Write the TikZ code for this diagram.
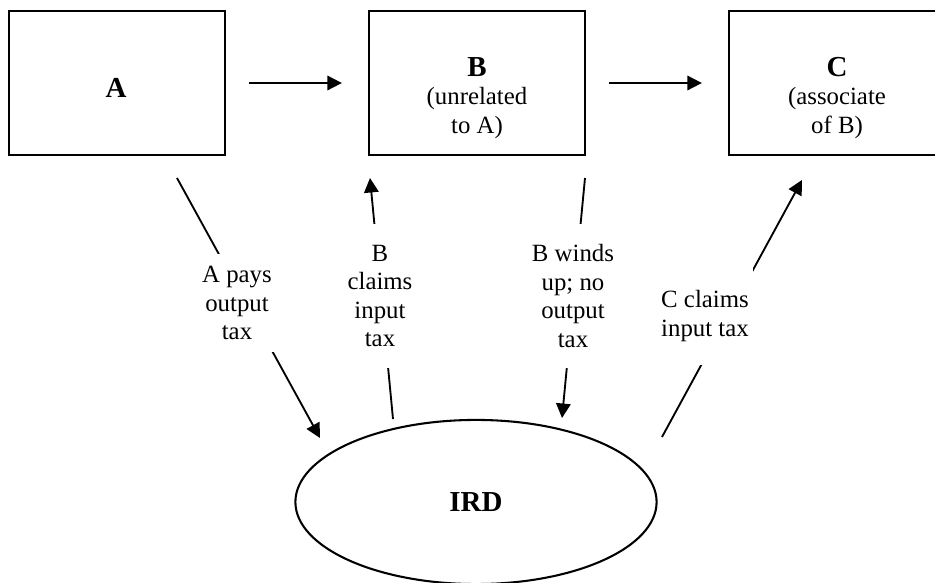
\documentclass[tikz,border=0pt]{standalone}
\usepackage{fontspec}
\setmainfont{Liberation Serif}
\usetikzlibrary{
    arrows.meta,
    shapes.geometric
}
\tikzset{
    % Arrows
    arrow tip/.tip={Triangle[length=7pt,width=7pt]},
    link/.style={line width=0.9pt},
    arr/.style={link,-{arrow tip}},
    %
    % Parties and the office
    party/.style={draw,line width=1.2pt,minimum width=3.672cm,minimum height=2.448cm,inner sep=0pt},
    office/.style={draw,ellipse,line width=1pt,minimum width=6.14cm,minimum height=2.79cm,inner sep=0pt},
    party name/.style={align=center},
    %
    % Labels on the flows
    flow label/.style={align=center,fill=white,inner xsep=2pt,inner ysep=0pt,minimum height=#1},
    flow label/.default=47pt
}
\tikzstyle{every node}=[font=\fontsize{12}{13.8}\selectfont]
\newcommand{\bigname}[1]{{\fontsize{14}{16}\selectfont\bfseries #1}}

\begin{document}
\begin{tikzpicture}[x=0.017cm,y=-0.017cm]
        \useasboundingbox (0,0) rectangle (935,583);

        \node[party] (A) at (117,83) {};
        \node[party] (B) at (477,83) {};
        \node[party] (C) at (837,83) {};
        \node[office] (IRD) at (476,502) {\bigname{IRD}};

        \node[party name] (A name) at (116,88) {\bigname{A}};
        \node[party name] (B name) at (477,98) {\bigname{B}\\(unrelated\\to A)};
        \node[party name] (C name) at (837,98) {\bigname{C}\\(associate\\of B)};

        \draw[arr,shorten <=0.39cm,shorten >=0.44cm] (A) -- (B);
        \draw[arr,shorten <=0.39cm,shorten >=0.44cm] (B) -- (C);

        \coordinate (pay from) at (177,178);
        \coordinate (pay to) at (320,438);
        \coordinate (claim B from) at (393,419);
        \coordinate (claim B to) at (370,178);
        \coordinate (wind from) at (585,178);
        \coordinate (wind to) at (562,418);
        \coordinate (claim C from) at (662,437);
        \coordinate (claim C to) at (802,180);

        \draw[arr] (pay from) -- (pay to);
        \draw[arr] (claim B from) -- (claim B to);
        \draw[arr] (wind from) -- (wind to);
        \draw[arr] (claim C from) -- (claim C to);

        \node[flow label] (pay) at (237,303) {A pays\\output\\tax};
        \node[flow label=70pt] (claim B) at (380,296) {B\\claims\\input\\tax};
        \node[flow label=70pt] (wind) at (573,296) {B winds\\up; no\\output\\tax};
        \node[flow label] (claim C) at (705,316) {C claims\\input tax};
    \end{tikzpicture}
\end{document}
